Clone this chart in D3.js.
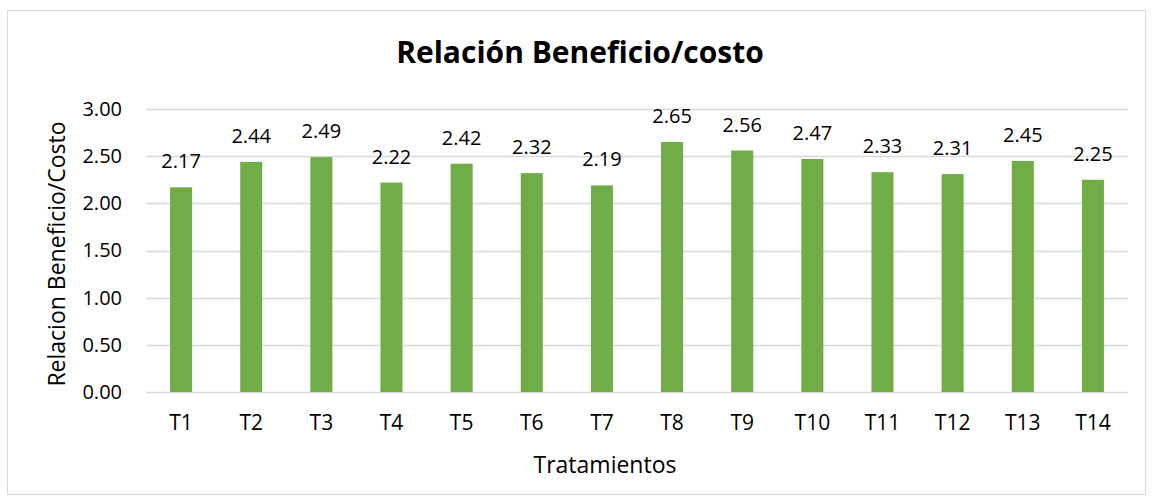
<!DOCTYPE html>
<html>
<head>
<meta charset="utf-8">
<script src="https://cdn.jsdelivr.net/npm/d3@7"></script>
<style>
  body { margin: 0; background: #fff; }
  text { font-family: "Open Sans", "Noto Sans", sans-serif; fill: #000; }
</style>
</head>
<body>
<script>
const categories = ["T1", "T2", "T3", "T4", "T5", "T6", "T7", "T8", "T9", "T10", "T11", "T12", "T13", "T14"];
const values = [2.17, 2.44, 2.49, 2.22, 2.42, 2.32, 2.19, 2.65, 2.56, 2.47, 2.33, 2.31, 2.45, 2.25];
const yTicks = [0, 0.5, 1, 1.5, 2, 2.5, 3];

const width = 1152, height = 503;
const margin = {top: 109, right: 24, bottom: 111, left: 146};
const fontSize = 20;

const svg = d3.select("body").append("svg")
    .attr("width", width)
    .attr("height", height);

// chart border
svg.append("rect")
    .attr("x", 7.5).attr("y", 10.5)
    .attr("width", 1138).attr("height", 484)
    .attr("fill", "#fff")
    .attr("stroke", "#d9d9d9")
    .attr("stroke-width", 1);

const x = d3.scaleBand()
    .domain(categories)
    .range([margin.left, width - margin.right])
    .paddingInner(0.686)
    .paddingOuter(0.343);

const y = d3.scaleLinear()
    .domain([0, 3])
    .range([height - margin.bottom, margin.top]);

// gridlines
svg.append("g")
    .selectAll("line")
    .data(yTicks)
    .enter()
    .append("line")
    .attr("x1", margin.left)
    .attr("x2", width - margin.right)
    .attr("y1", d => Math.round(y(d)) + 0.5)
    .attr("y2", d => Math.round(y(d)) + 0.5)
    .attr("stroke", "#d9d9d9")
    .attr("stroke-width", 1.3);

// y tick labels
const yAxis = d3.axisLeft(y).tickValues(yTicks).tickFormat(d3.format(".2f")).tickSize(0).tickPadding(24);
const gy = svg.append("g")
    .attr("transform", `translate(${margin.left},0)`)
    .call(yAxis);
gy.attr("font-family", null).attr("font-size", null);
gy.select(".domain").remove();
gy.selectAll("text").attr("font-size", fontSize).attr("fill", "#000");

// bars
svg.append("g")
    .selectAll("rect")
    .data(values)
    .enter()
    .append("rect")
    .attr("x", (d, i) => x(categories[i]))
    .attr("y", d => y(d))
    .attr("width", x.bandwidth())
    .attr("height", d => y(0) - y(d))
    .attr("fill", "#70ad47");

// data labels
svg.append("g")
    .selectAll("text")
    .data(values)
    .enter()
    .append("text")
    .attr("x", (d, i) => x(categories[i]) + x.bandwidth() / 2)
    .attr("y", d => y(d) - 19)
    .attr("text-anchor", "middle")
    .attr("font-size", fontSize)
    .text(d => d3.format(".2f")(d));

// x tick labels
const xAxis = d3.axisBottom(x).tickSize(0).tickPadding(23);
const gx = svg.append("g")
    .attr("transform", `translate(0,${height - margin.bottom})`)
    .call(xAxis);
gx.attr("font-family", null).attr("font-size", null);
gx.select(".domain").remove();
gx.selectAll("text").attr("font-size", 21).attr("fill", "#000");

// title
svg.append("text")
    .attr("x", 580)
    .attr("y", 63)
    .attr("text-anchor", "middle")
    .attr("font-size", 30)
    .attr("font-weight", "bold")
    .text("Relación Beneficio/costo");

// axis titles
svg.append("text")
    .attr("x", 605)
    .attr("y", 473)
    .attr("text-anchor", "middle")
    .attr("font-size", 23)
    .text("Tratamientos");

svg.append("text")
    .attr("transform", `translate(65,254) rotate(-90)`)
    .attr("text-anchor", "middle")
    .attr("font-size", 23)
    .text("Relacion Beneficio/Costo");
</script>
</body>
</html>
